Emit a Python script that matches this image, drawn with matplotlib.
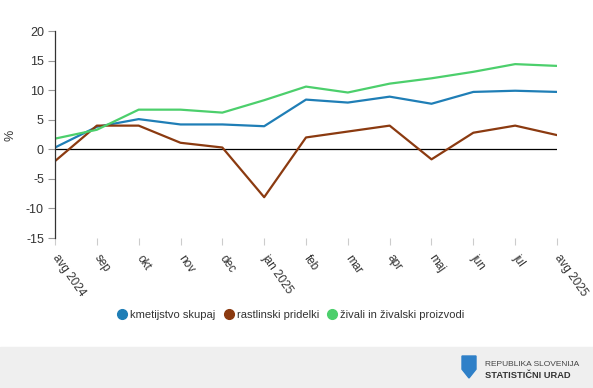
import numpy as np
import matplotlib.pyplot as plt
from matplotlib.patches import Rectangle, Polygon

plt.rcParams["font.family"] = ["Liberation Sans", "DejaVu Sans"]
plt.rcParams["axes.unicode_minus"] = False

# Podatki (medletna sprememba, %)
meseci = ["avg 2024", "sep", "okt", "nov", "dec", "jan 2025", "feb", "mar",
          "apr", "maj", "jun", "jul", "avg 2025"]
kmetijstvo = [0.3, 3.8, 5.1, 4.2, 4.2, 3.9, 8.4, 7.9, 8.9, 7.7, 9.7, 9.9, 9.7]
rastlinski = [-2.0, 4.0, 4.0, 1.1, 0.3, -8.1, 2.0, 3.0, 4.0, -1.7, 2.8, 4.0, 2.4]
zivali = [1.8, 3.3, 6.7, 6.7, 6.2, 8.3, 10.6, 9.6, 11.1, 12.0, 13.1, 14.4, 14.1]

barve = {"kmetijstvo skupaj": "#1f7eb6",
         "rastlinski pridelki": "#8b3a10",
         "živali in živalski proizvodi": "#4ccf6c"}

fig = plt.figure(figsize=(5.93, 3.88), dpi=100)
ax = fig.add_axes([55/593, 1-238/388, 502/593, 207/388])

x = np.arange(len(meseci))
ax.plot(x, kmetijstvo, color=barve["kmetijstvo skupaj"], lw=1.6, label="kmetijstvo skupaj")
ax.plot(x, rastlinski, color=barve["rastlinski pridelki"], lw=1.6, label="rastlinski pridelki")
ax.plot(x, zivali, color=barve["živali in živalski proizvodi"], lw=1.6,
        label="živali in živalski proizvodi")
ax.axhline(0, color="black", lw=0.9, zorder=1)

ax.set_xlim(0, 12)
ax.set_ylim(-15, 20)
ax.set_yticks(np.arange(-15, 21, 5))
ax.set_xticks(x)
ax.set_xticklabels(meseci, rotation=-55, ha="left", va="center", rotation_mode="anchor")

for s in ["top", "right", "bottom"]:
    ax.spines[s].set_visible(False)
ax.spines["left"].set_color("#333333")
ax.spines["left"].set_linewidth(0.9)
ax.tick_params(axis="y", length=5, color="#999999", labelsize=9, labelcolor="#333333", pad=3)
ax.tick_params(axis="x", length=5, color="#cccccc", labelsize=8.5, labelcolor="#333333", pad=8)
fig.text(11/593, 1-135/388, "%", rotation=90, fontsize=9, color="#333333",
         ha="center", va="center")

# Legenda
handles = [plt.Line2D([], [], marker="o", ls="", ms=7, color=c) for c in barve.values()]
fig.legend(handles, list(barve.keys()), loc="center", bbox_to_anchor=(0.49, 1-315/388),
           ncol=3, frameon=False, fontsize=8, handletextpad=0.2, columnspacing=0.7,
           handlelength=1.0, labelcolor="#333333")

# Noga z logotipom
fig.patches.append(Rectangle((0, 0), 1, 41/388, transform=fig.transFigure,
                             color="#efefef", zorder=0))
sx, sy = 462/593, 1-356/388
w, h = 14/593, 22/388
shield = Polygon([[sx, sy], [sx+w, sy], [sx+w, sy-h*0.6], [sx+w/2, sy-h], [sx, sy-h*0.6]],
                 closed=True, transform=fig.transFigure, color="#2f80c8", zorder=1)
fig.patches.append(shield)
fig.text(485/593, 1-364/388, "REPUBLIKA SLOVENIJA", fontsize=6, color="#444444",
         va="center", ha="left")
fig.text(485/593, 1-376/388, "STATISTIČNI URAD", fontsize=6.7, color="#333333",
         fontweight="bold", va="center", ha="left")

fig.savefig("out.png", dpi=100)
